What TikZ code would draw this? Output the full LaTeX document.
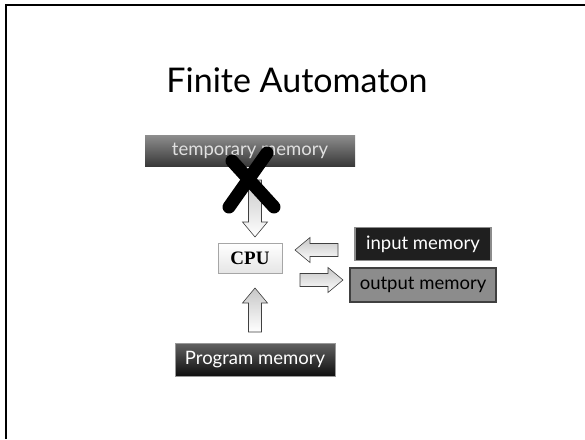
\documentclass[tikz,border=0pt]{standalone}
\usepackage{fontspec}
\setmainfont{Lato}
\newfontfamily\cpufont{Liberation Serif}
\begin{document}
\begin{tikzpicture}[x=1pt,y=-1pt,
  membox/.style={minimum height=31pt, inner sep=0pt, font=\fontsize{18.5}{20}\selectfont},
  tempbox/.style={membox, top color=black!45, bottom color=black!78, text=black!12, minimum width=210pt},
  inbox/.style={membox, fill=black!88, draw=black!45, line width=1.5pt, text=white, minimum width=136pt, minimum height=33pt},
  outbox/.style={membox, fill=black!45, draw=black!75, line width=1.5pt, text=black, minimum width=146pt, minimum height=34pt},
  progbox/.style={membox, top color=black!62, bottom color=black!95, draw=black!40, line width=0.5pt, text=white, minimum width=160pt, minimum height=33pt},
  cpubox/.style={top color=white, bottom color=black!10, draw=black!35, line width=0.6pt, minimum width=64pt, minimum height=30pt, inner sep=0pt, font=\cpufont\bfseries\fontsize{19}{21}\selectfont},
  blockarrow/.style={top color=black!22, bottom color=white, draw=black!75, line width=0.6pt, line join=miter},
  cross/.style={line width=13pt, line cap=round, black}
]
% slide area and its frame
\useasboundingbox (0,0) rectangle (585,439);
\fill[white] (0,0) rectangle (585,439);
\draw[line width=2.2pt] (6,439) -- (6,5) -- (585,5);

% title
\node[font=\fontsize{34}{37}\selectfont, anchor=base] (title) at (297,92) {Finite Automaton};

% memories and processor
\node[tempbox] (temp) at (250,151) {temporary memory};
\node[cpubox] (cpu) at (250,258) {CPU};
\node[inbox] (in) at (423,244) {input memory};
\node[outbox] (out) at (423,285) {output memory};
\node[progbox] (prog) at (255,360) {Program memory};

% block arrow: #1 = start coordinate, #2 = direction angle, #3 = length
\newcommand\blockarr[3]{%
  \begin{scope}[shift={(#1)}, rotate=#2]
    \path[blockarrow] (0,-6.5) -- (#3-15,-6.5) -- (#3-15,-12.5) -- (#3,0)
      -- (#3-15,12.5) -- (#3-15,6.5) -- (0,6.5) -- cycle;
  \end{scope}}

\coordinate (downstart) at (255,180);
\coordinate (upstart) at (255,332);
\coordinate (leftstart) at (338,250);
\coordinate (rightstart) at (300,280);

\blockarr{downstart}{-90}{57}
\blockarr{upstart}{90}{44}
\blockarr{leftstart}{180}{43}
\blockarr{rightstart}{0}{43}

% the crossed-out temporary memory
\coordinate (xa) at (232,161);
\coordinate (xb) at (274,207);
\coordinate (xc) at (267,153);
\coordinate (xd) at (229,207);
\draw[cross] (xa) -- (xb);
\draw[cross] (xc) -- (xd);
\end{tikzpicture}
\end{document}
